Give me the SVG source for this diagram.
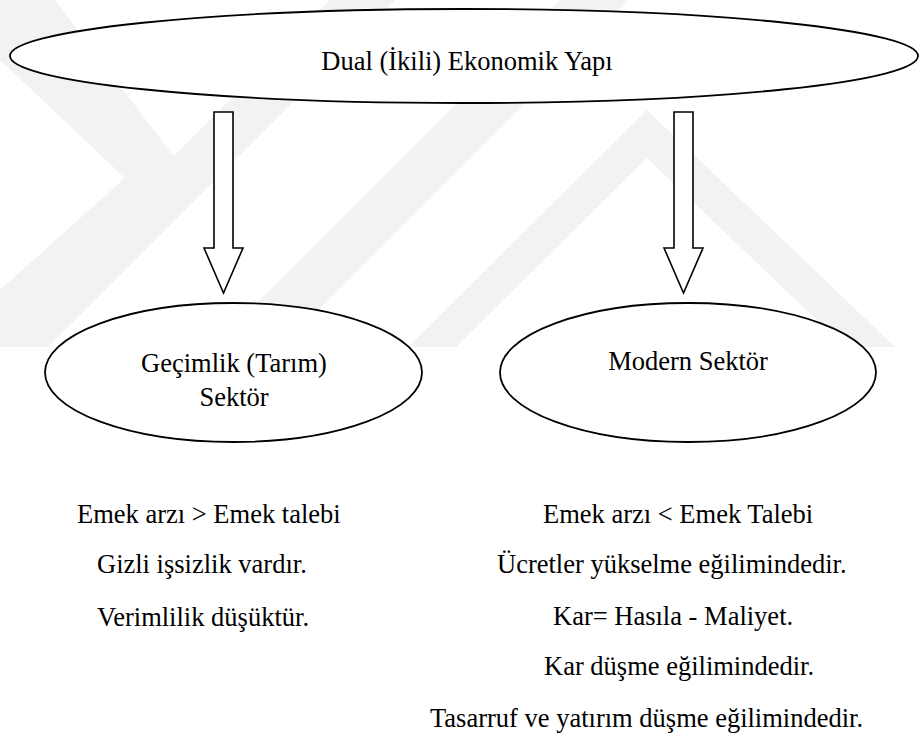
<svg xmlns="http://www.w3.org/2000/svg" width="920" height="740" viewBox="0 0 920 740">
  <style>
    .wm { fill: #f2f2f2; stroke: none; }
    .node { fill: #ffffff; stroke: #000000; stroke-width: 1.8; }
    .arrow { fill: #ffffff; stroke: #000000; stroke-width: 1.6; stroke-linejoin: miter; }
    .mid { text-anchor: middle; }
  </style>

  <rect x="0" y="0" width="920" height="740" fill="#ffffff"/>

  <!-- faint background watermark bands -->
  <g id="watermark">
    <polygon class="wm" points="0,0 55,0 190,178 25,347 0,347 0,290 125,178 0,60"/>
    <polygon class="wm" points="330,0 395,0 48,347 0,347 0,330"/>
    <polygon class="wm" points="560,0 628,0 281,347 213,347"/>
    <polygon class="wm" points="647,110 895,347 845,347 647,158 456,347 408,347"/>
  </g>

  <!-- block arrows -->
  <g id="connectors">
    <polygon class="arrow" points="214,112 233,112 233,248 243,248 223.5,293 204,248 214,248"/>
    <polygon class="arrow" points="674,112 693,112 693,248 703,248 683.5,293 664,248 674,248"/>
  </g>

  <g font-family="Liberation Serif, Times New Roman, serif" font-size="26.5" fill="#000000">
    <g id="dual-structure">
      <ellipse class="node" cx="464" cy="56" rx="454" ry="47"/>
      <text class="mid" x="467" y="70">Dual (İkili) Ekonomik Yapı</text>
    </g>

    <g id="subsistence-sector">
      <ellipse class="node" cx="233.5" cy="372.5" rx="188.5" ry="69.5"/>
      <text class="mid" x="234" y="372">Geçimlik (Tarım)</text>
      <text class="mid" x="234" y="406">Sektör</text>
    </g>

    <g id="modern-sector">
      <ellipse class="node" cx="688" cy="372.5" rx="188" ry="69.5"/>
      <text class="mid" x="688" y="370">Modern Sektör</text>
    </g>

    <g id="subsistence-notes">
      <text x="77" y="523">Emek arzı &gt; Emek talebi</text>
      <text x="97" y="573">Gizli işsizlik vardır.</text>
      <text x="97" y="626">Verimlilik düşüktür.</text>
    </g>

    <g id="modern-notes">
      <text x="543" y="523">Emek arzı &lt; Emek Talebi</text>
      <text x="497" y="573">Ücretler yükselme eğilimindedir.</text>
      <text x="553" y="625">Kar= Hasıla - Maliyet.</text>
      <text x="544" y="675">Kar düşme eğilimindedir.</text>
      <text x="430" y="727">Tasarruf ve yatırım düşme eğilimindedir.</text>
    </g>
  </g>
</svg>
